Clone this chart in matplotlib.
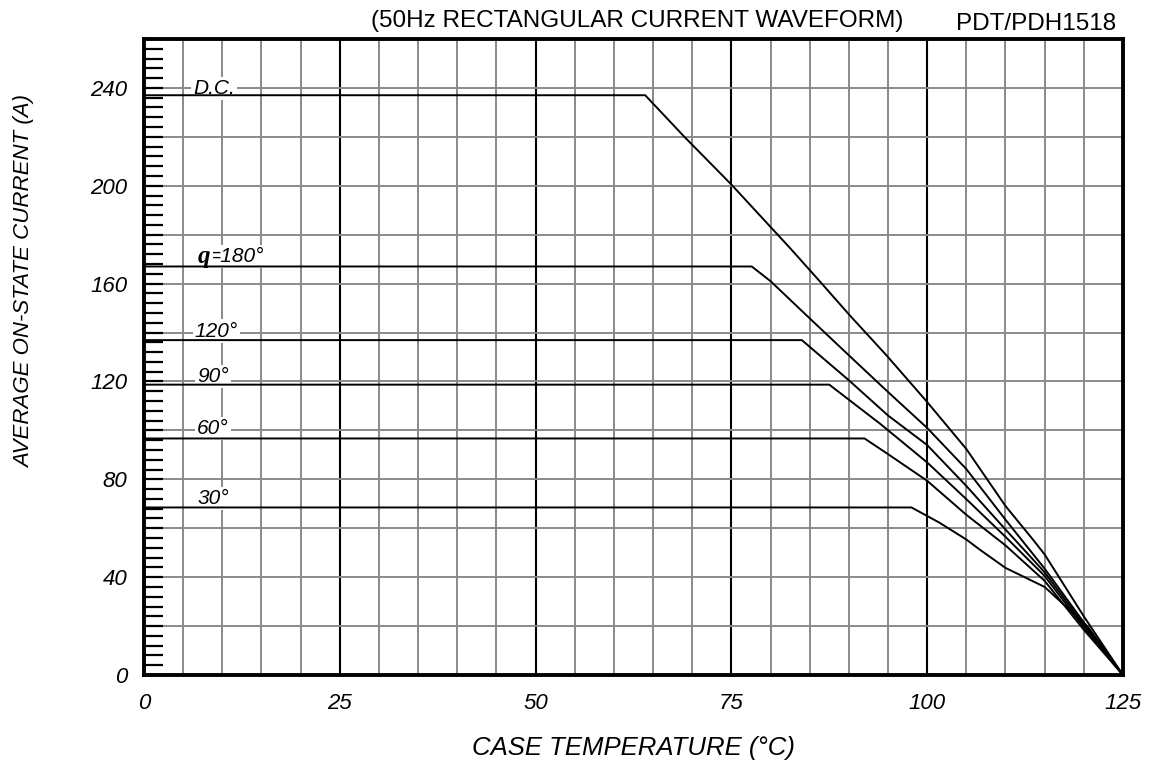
## derating curves - average on-state current vs case temperature
import matplotlib
matplotlib.use('Agg')
import matplotlib.pyplot as plt
from matplotlib.ticker import MultipleLocator

#----------Data-------------------------------------------------------
temp_dc = [0, 64, 69, 75, 82.5, 86.3, 90.1, 94.8, 100, 105, 110, 113.5, 115, 120, 125]
amp_dc = [237, 237, 220, 200.5, 174.5, 160.9, 147.1, 130.7, 111.6, 92.4, 69.1, 55.4, 49.3, 24, 0]

temp_180 = [0, 77.6, 80, 85, 90, 95, 100, 105, 110, 115, 120, 125]
amp_180 = [167, 167, 161, 145.8, 130.7, 115.7, 101, 84.2, 63.5, 43.5, 21.5, 0]

temp_120 = [0, 84, 90, 95, 100, 105, 110, 115, 120, 125]
amp_120 = [136.9, 136.9, 120.5, 106.1, 94, 77.3, 59.5, 42, 20.5, 0]

temp_90 = [0, 87.5, 94, 100, 105, 110, 115, 120, 125]
amp_90 = [118.7, 118.7, 102.7, 86.9, 71.9, 56.5, 40.5, 19.5, 0]

temp_60 = [0, 92, 95, 97.8, 100, 105, 110, 115, 120, 125]
amp_60 = [96.7, 96.7, 90.3, 84.2, 79.4, 65.5, 53, 38.5, 18.5, 0]

temp_30 = [0, 98, 101.5, 105, 106.7, 110, 115, 120.5, 125]
amp_30 = [68.5, 68.5, 62.4, 55.4, 51.3, 43.8, 36, 19.8, 0]

curve_labels = ['D.C.', '=180°', '120°', '90°', '60°', '30°']
x_ticks = [0, 25, 50, 75, 100, 125]
y_ticks = [0, 40, 80, 120, 160, 200, 240]

FONT = 'Liberation Sans'
plt.rcParams['font.family'] = [FONT, 'DejaVu Sans']

#-----figure + axes placed to match the picture------------------------
fig = plt.figure(figsize=(11.62, 7.67), dpi=100)
ax = fig.add_axes([0.1239, 0.1199, 0.8425, 0.8293])
ax.set_xlim(0, 125)
ax.set_ylim(0, 260)

#-grid: gray every 5 degC / 20 A, black every 25 degC
for t in range(5, 125, 5):
    if t % 25 == 0:
        ax.axvline(t, color='black', lw=1.5, zorder=1)
    else:
        ax.axvline(t, color='#8a8a8a', lw=1.4, zorder=1)
for a in range(20, 260, 20):
    ax.axhline(a, color='#8a8a8a', lw=1.4, zorder=1)

#-curves
for tt, aa in [(temp_dc, amp_dc), (temp_180, amp_180), (temp_120, amp_120),
               (temp_90, amp_90), (temp_60, amp_60), (temp_30, amp_30)]:
    ax.plot(tt, aa, color='black', lw=1.4, zorder=3)

#-curve labels with white boxes that break the grid
box = dict(facecolor='white', edgecolor='none', pad=1.5)
lab_pos = [(6.3, 239.6), (8.3, 171.1), (6.5, 140.6), (6.8, 122.1), (6.8, 100.8), (6.8, 72.1)]
for txt, (x, y) in zip(curve_labels, lab_pos):
    ax.text(x, y, txt, fontsize=15, style='italic', ha='left', va='center',
            bbox=box, zorder=2.5)
ax.text(8.5, 171.1, 'q', fontsize=18, family='Liberation Serif', weight='bold',
        style='italic', ha='right', va='center', bbox=box, zorder=2.6)

#-spines and ticks
for s in ax.spines.values():
    s.set_linewidth(2.8)
    s.set_zorder(4)
ax.set_xticks(x_ticks)
ax.set_yticks(y_ticks)
ax.yaxis.set_minor_locator(MultipleLocator(4))
ax.tick_params(axis='x', length=0, pad=13, labelsize=16)
ax.tick_params(axis='y', which='both', direction='in', length=14, width=1.6,
               pad=12, labelsize=16)
for lab in ax.get_xticklabels() + ax.get_yticklabels():
    lab.set_style('italic')

#-titles / axis names
fig.text(25 / 1162, 1 - 282 / 767, 'AVERAGE ON-STATE CURRENT (A)', rotation=90,
         fontsize=16, style='italic', ha='center', va='center')
fig.text(634 / 1162, 1 - 748 / 767, 'CASE TEMPERATURE (°C)',
         fontsize=18.5, style='italic', ha='center', va='center')
fig.text(637 / 1162, 1 - 21 / 767, '(50Hz RECTANGULAR CURRENT WAVEFORM)',
         fontsize=17.5, ha='center', va='center')
fig.text(1036 / 1162, 1 - 24 / 767, 'PDT/PDH1518',
         fontsize=17.5, ha='center', va='center')

fig.savefig('out.png', dpi=100, facecolor='white')
